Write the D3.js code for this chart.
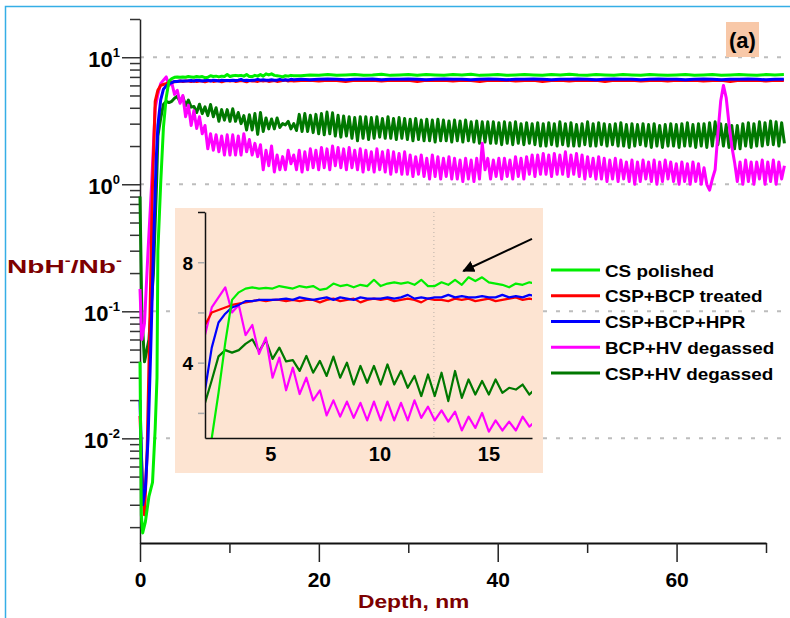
<!DOCTYPE html>
<html>
<head>
<meta charset="utf-8">
<script src="https://cdn.jsdelivr.net/npm/d3@7"></script>
<style>
  body { margin: 0; background: #fff; }
  text { font-family: Arial, "Liberation Sans", sans-serif; font-weight: bold; }
</style>
</head>
<body>
<svg id="chart" width="790" height="618"></svg>
<script>
const
  SERIES_NAMES = ['CS polished', 'CSP+BCP treated', 'CSP+BCP+HPR', 'BCP+HV degassed', 'CSP+HV degassed'],
  SERIES_COLORS = ['#00ee00', '#ff0000', '#0000ff', '#ff00ff', '#007800'],
  X_TICKS = [0, 10, 20, 30, 40, 50, 60, 70],
  X_LABELS = [0, 20, 40, 60],
  INSET_X_LABELS = [5, 10, 15],
  INSET_Y_TICKS = [2, 4, 6, 8, 10],
  INSET_Y_LABELS = [4, 8];

// depth grid of the inset arrays (and of the noisy tails that follow them)
const GRID_START = 2, GRID_STEP = 0.31;
// flat tails are read every 1 nm from 18 nm
const FLAT_START = 18, FLAT_STEP = 1;

// surface region, [depth, ratio]
const riseCS = [[0, 0.04], [0.15, 0.0025], [0.3, 0.0018], [0.6, 0.0022], [1.0, 0.0035], [1.4, 0.0045], [1.7, 0.012], [1.9, 0.03]];
const riseRed = [[0, 0.015], [0.25, 0.005], [0.5, 0.0025], [0.8, 0.008], [1.1, 0.08], [1.4, 1.0], [1.7, 4.5]];
const riseBlue = [[0, 0.02], [0.3, 0.003], [0.6, 0.004], [0.9, 0.01], [1.2, 0.05], [1.5, 0.3], [1.8, 1.5]];
const riseMagenta = [[0, 0.15], [0.2, 0.06], [0.5, 0.08], [0.9, 0.3], [1.3, 1.0], [1.7, 4.0]];
const riseDkGreen = [[0, 0.8], [0.2, 0.1], [0.5, 0.04], [1.0, 0.06], [1.5, 0.2], [1.85, 1.0]];

// 2 .. 17 nm (inset range)
const insetCS = [0.3, 1.0, 2.8, 4.8, 6.5, 6.8, 6.95, 7.0, 6.95, 6.98,
  6.95, 7.05, 7.0, 6.95, 7.05, 7.0, 7.05, 6.9, 6.95, 7.15,
  7.05, 7.1, 7.0, 7.1, 7.05, 7.3, 7.05, 7.15, 7.2, 7.15,
  7.2, 7.1, 7.3, 7.05, 7.05, 7.2, 7.1, 7.3, 7.1, 7.4,
  7.25, 7.4, 7.2, 7.15, 7.1, 7.0, 7.15, 7.1, 7.2, 7.15];
const insetRed = [5.5, 6.0, 6.1, 6.2, 6.3, 6.35, 6.4, 6.45, 6.5, 6.45,
  6.5, 6.5, 6.45, 6.5, 6.45, 6.5, 6.5, 6.4, 6.5, 6.55,
  6.45, 6.5, 6.55, 6.4, 6.5, 6.55, 6.5, 6.55, 6.45, 6.5,
  6.55, 6.5, 6.4, 6.55, 6.5, 6.5, 6.45, 6.55, 6.5, 6.55,
  6.45, 6.5, 6.55, 6.45, 6.5, 6.55, 6.6, 6.5, 6.55, 6.5];
const insetBlue = [2.9, 4.6, 5.6, 5.95, 6.2, 6.3, 6.45, 6.45, 6.5, 6.5,
  6.5, 6.52, 6.55, 6.5, 6.6, 6.55, 6.5, 6.55, 6.6, 6.5,
  6.6, 6.55, 6.5, 6.6, 6.55, 6.55, 6.55, 6.6, 6.55, 6.6,
  6.7, 6.55, 6.6, 6.55, 6.6, 6.6, 6.7, 6.6, 6.65, 6.6,
  6.6, 6.65, 6.6, 6.6, 6.7, 6.6, 6.65, 6.6, 6.7, 6.65];
const insetMagenta = [5.1, 6.2, 6.6, 7.0, 6.0, 6.3, 5.1, 5.5, 4.35, 5.0,
  3.4, 4.2, 2.9, 3.8, 2.75, 3.4, 2.5, 2.9, 1.9, 2.5,
  1.85, 2.45, 1.8, 2.4, 1.7, 2.45, 1.7, 2.45, 1.7, 2.4,
  1.7, 2.5, 1.8, 2.25, 1.7, 2.1, 1.65, 2.05, 1.3, 1.85,
  1.4, 2.0, 1.25, 1.7, 1.3, 1.65, 1.3, 1.85, 1.45, 1.7];
const insetDkGreen = [2.4, 3.3, 4.25, 4.5, 4.4, 4.5, 4.75, 4.93, 4.45, 4.9,
  4.15, 4.6, 4.05, 4.1, 3.67, 4.27, 3.6, 4.07, 3.47, 4.24,
  3.4, 4.0, 3.13, 3.87, 3.2, 3.87, 3.13, 3.93, 3.13, 3.67,
  3.0, 3.47, 2.67, 3.53, 2.67, 3.6, 2.47, 3.67, 2.6, 3.33,
  2.73, 3.27, 2.73, 3.33, 2.8, 3.0, 2.93, 3.13, 2.73, 3.0];

// 17.5 .. 72 nm, same 0.31 nm grid
const tailMagenta = [1.3, 1.85, 1.25, 1.8, 1.3, 1.9, 1.35, 1.85,
  1.3, 1.95, 1.35, 1.9, 1.3, 2.0, 1.4, 1.95, 1.35, 1.9, 1.3, 1.95, 1.35, 1.85, 1.3, 1.9, 1.25,
  1.85, 1.3, 1.8, 1.25, 1.9, 1.3, 1.8, 1.25, 1.85, 1.2, 1.8, 1.25, 1.75, 1.2, 1.8, 1.2,
  1.7, 1.15, 1.65, 1.2, 1.7, 1.15, 1.6, 1.1, 1.7, 1.15, 1.65, 1.1, 1.6, 1.15, 1.65, 1.1, 1.6, 1.1, 1.55,
  1.05, 1.6, 1.1, 1.55, 1.05, 1.6, 1.1,
  2.1, 1.3,
  1.6, 1.1, 1.55, 1.15, 1.6, 1.1, 1.6, 1.15, 1.55, 1.1, 1.65, 1.15, 1.6, 1.1, 1.65, 1.2, 1.7, 1.15, 1.7, 1.2,
  1.75, 1.2, 1.7, 1.15, 1.75, 1.2, 1.7, 1.2, 1.8, 1.15, 1.7, 1.2, 1.75, 1.15, 1.7, 1.1, 1.65, 1.15, 1.6, 1.1, 1.65, 1.1, 1.6,
  1.05, 1.55, 1.1, 1.6, 1.05, 1.55, 1.1, 1.5, 1.05, 1.55, 1.0, 1.5, 1.05, 1.55, 1.1, 1.5, 1.05, 1.55,
  1.0, 1.5, 1.05, 1.55, 1.1, 1.5, 1.05, 1.45, 1.0, 1.5, 1.05, 1.45, 1.0, 1.5, 1.05, 1.45, 1.0,
  1.35, 1.0, 0.9, 1.1, 1.3, 2.5, 4.5, 6.0, 4.8, 3.0, 2.0, 1.5,
  1.05, 1.5, 1.0, 1.55, 1.05, 1.5, 1.0, 1.5, 1.1, 1.55, 1.0, 1.5, 1.05, 1.55, 1.0, 1.5, 1.1, 1.4];
const tailDkGreen = [2.65, 3.55, 2.6, 3.6, 2.6, 3.5, 2.55, 3.55,
  2.5, 3.6, 2.45, 3.7, 2.5, 3.65, 2.4, 3.5, 2.35, 3.45, 2.4, 3.4, 2.3, 3.35, 2.2, 3.4, 2.3,
  3.4, 2.25, 3.35, 2.3, 3.4, 2.35, 3.3, 2.3, 3.4, 2.3, 3.3, 2.25, 3.35, 2.3, 3.3, 2.25,
  3.25, 2.2, 3.3, 2.25, 3.2, 2.2, 3.25, 2.2, 3.2, 2.15, 3.25, 2.2, 3.2, 2.2, 3.15, 2.15, 3.2, 2.2, 3.15,
  2.15, 3.2, 2.2, 3.1, 2.15, 3.15, 2.1,
  3.1, 2.15,
  3.1, 2.1, 3.1, 2.1, 3.05, 2.05, 3.1, 2.1, 3.05, 2.05, 3.1, 2.1, 3.0, 2.05, 3.05, 2.1, 3.0, 2.05, 3.05, 2.0,
  3.0, 2.0, 3.05, 2.05, 3.0, 2.0, 3.1, 2.05, 3.0, 2.0, 3.05, 2.0, 2.95, 2.0, 3.0, 2.05, 3.1, 2.0, 3.0, 2.0, 3.05, 2.05, 3.0,
  2.0, 2.95, 2.05, 3.0, 2.0, 3.05, 2.0, 2.95, 1.95, 3.0, 2.0, 2.95, 2.05, 3.0, 2.0, 2.95, 1.95, 3.0,
  2.0, 2.9, 1.95, 2.95, 2.0, 3.0, 2.0, 2.95, 1.95, 3.0, 2.0, 3.05, 2.0, 2.95, 1.95, 3.0, 2.0,
  3.0, 1.95, 3.05, 2.0, 3.1, 2.05, 3.0, 2.0, 2.95, 1.95, 2.9, 1.9,
  2.9, 1.9, 3.0, 2.0, 3.05, 1.95, 3.0, 2.0, 3.1, 2.0, 3.05, 2.05, 3.15, 2.05, 3.1, 2.0, 3.05, 2.1];

// 18 .. 72 nm, every 1 nm
const tailCS = [7.15, 7.25, 7.2, 7.3, 7.2, 7.25, 7.3, 7.2, 7.25, 7.35, 7.2,
  7.25, 7.3, 7.2, 7.3, 7.25, 7.2, 7.3, 7.25, 7.35, 7.2, 7.25,
  7.3, 7.2, 7.25, 7.3, 7.25, 7.2, 7.3, 7.25, 7.35, 7.25, 7.2,
  7.3, 7.25, 7.2, 7.3, 7.25, 7.2, 7.3, 7.25, 7.2, 7.25, 7.3,
  7.2, 7.25, 7.3, 7.2, 7.25, 7.3, 7.25, 7.2, 7.3, 7.25, 7.3];
const tailRed = [6.55, 6.6, 6.5, 6.6, 6.55, 6.45, 6.6, 6.55, 6.6, 6.5, 6.6,
  6.55, 6.6, 6.45, 6.6, 6.55, 6.6, 6.5, 6.6, 6.55, 6.45, 6.6,
  6.55, 6.6, 6.5, 6.55, 6.6, 6.45, 6.55, 6.6, 6.5, 6.6, 6.55,
  6.6, 6.45, 6.6, 6.55, 6.6, 6.5, 6.55, 6.6, 6.5, 6.6, 6.55,
  6.6, 6.5, 6.55, 6.6, 6.45, 6.6, 6.55, 6.6, 6.5, 6.6, 6.55];
const tailBlue = [6.7, 6.65, 6.7, 6.75, 6.7, 6.65, 6.7, 6.7, 6.75, 6.65, 6.7,
  6.7, 6.75, 6.7, 6.65, 6.7, 6.75, 6.7, 6.7, 6.65, 6.7, 6.75,
  6.7, 6.65, 6.7, 6.7, 6.75, 6.7, 6.65, 6.7, 6.7, 6.75, 6.7,
  6.65, 6.7, 6.75, 6.7, 6.7, 6.65, 6.7, 6.75, 6.7, 6.7, 6.65,
  6.7, 6.75, 6.7, 6.65, 6.7, 6.7, 6.75, 6.7, 6.65, 6.7, 6.7];

// annotation arrow in inset units, [depth, ratio]
const ARROW_FROM = [17.0, 8.93], ARROW_TO = [13.85, 7.65];

function onGrid (values, start, step) {
  return values.map((v, i) => [start + i * step, v]);
}

const tailStart = GRID_START + insetCS.length * GRID_STEP;

const insetSeries = [insetCS, insetRed, insetBlue, insetMagenta, insetDkGreen]
  .map((vals) => onGrid(vals, GRID_START, GRID_STEP));

const mainSeries = [
  riseCS.concat(insetSeries[0], onGrid(tailCS, FLAT_START, FLAT_STEP)),
  riseRed.concat(insetSeries[1], onGrid(tailRed, FLAT_START, FLAT_STEP)),
  riseBlue.concat(insetSeries[2], onGrid(tailBlue, FLAT_START, FLAT_STEP)),
  riseMagenta.concat(insetSeries[3], onGrid(tailMagenta, tailStart, GRID_STEP)),
  riseDkGreen.concat(insetSeries[4], onGrid(tailDkGreen, tailStart, GRID_STEP))
];

// draw order: dark green underneath, green on top
const DRAW_ORDER = [4, 3, 1, 2, 0];

const svg = d3.select('#chart');

function stretchText (sel, k) {
  sel.each(function () {
    let t = d3.select(this),
      x0 = +t.attr('x') || 0,
      y0 = +t.attr('y') || 0;
    t.attr('x', 0).attr('y', 0).attr('transform', `translate(${x0},${y0}) scale(${k},1)`);
  });
}

svg.append('rect')
  .attr('x', 5.5).attr('y', 6.5).attr('width', 800).attr('height', 700)
  .attr('fill', '#fff').attr('stroke', '#35aee6').attr('stroke-width', 1.5);

// main scales
const x = d3.scaleLinear().domain([0, 70]).range([140, 766]);
const y = d3.scaleLog().domain([0.0015, 20]).range([543, 19]);
const isDecade = (v) => Math.abs(Math.log10(v) - Math.round(Math.log10(v))) < 1e-6;
const decades = y.ticks().filter(isDecade);

// dashed grid at the decades
svg.append('g')
  .selectAll('line')
  .data(decades)
  .enter()
  .append('line')
  .attr('x1', 140).attr('x2', 790)
  .attr('y1', (d) => y(d)).attr('y2', (d) => y(d))
  .attr('stroke', '#bdbdbd').attr('stroke-width', 2)
  .attr('stroke-dasharray', '4,9');

// y axis
const yAxis = svg.append('g')
  .attr('transform', 'translate(140,0)')
  .call(d3.axisLeft(y).tickValues(y.ticks()).tickSize(10).tickSizeOuter(0).tickFormat(''));

yAxis.select('.domain').attr('stroke', '#222').attr('stroke-width', 1.5);
yAxis.selectAll('.tick line')
  .attr('x2', (d) => isDecade(d) ? -18 : -10)
  .attr('stroke', '#333').attr('stroke-width', 1.5);

let yLab = yAxis.selectAll('.tick')
  .filter(isDecade)
  .append('text')
  .attr('x', -20).attr('y', 9)
  .attr('text-anchor', 'end')
  .attr('fill', '#000')
  .style('font-size', '22px');
yLab.append('tspan').text('10');
yLab.append('tspan')
  .attr('dy', -10)
  .style('font-size', '13px')
  .text((d) => Math.round(Math.log10(d)));

// x axis
const xAxis = svg.append('g')
  .attr('transform', 'translate(0,543)')
  .call(d3.axisBottom(x).tickValues(X_TICKS).tickSize(9).tickSizeOuter(0).tickFormat(''));

xAxis.select('.domain').attr('stroke', '#111').attr('stroke-width', 2);
xAxis.selectAll('.tick line')
  .attr('y2', (d) => X_LABELS.includes(d) ? 19 : 10)
  .attr('stroke', '#222').attr('stroke-width', 1.5);
xAxis.selectAll('.tick')
  .filter((d) => X_LABELS.includes(d))
  .append('text')
  .attr('y', 44)
  .attr('text-anchor', 'middle')
  .attr('fill', '#000')
  .style('font-size', '21px')
  .text((d) => d);

// axis titles
let yTitle = svg.append('text')
  .attr('x', 7).attr('y', 273)
  .attr('fill', '#7d0000')
  .style('font-size', '19px');
yTitle.append('tspan').text('NbH');
yTitle.append('tspan').attr('dy', -8).style('font-size', '12px').text('-');
yTitle.append('tspan').attr('dy', 8).text('/Nb');
yTitle.append('tspan').attr('dy', -8).style('font-size', '12px').text('-');
stretchText(yTitle, 1.48);

svg.append('text')
  .attr('x', 358).attr('y', 608)
  .attr('fill', '#7d0000')
  .style('font-size', '19px')
  .text('Depth, nm')
  .call(stretchText, 1.2);

// main curves
const line = d3.line().x((d) => x(d[0])).y((d) => y(d[1]));

svg.append('g')
  .selectAll('path')
  .data(DRAW_ORDER)
  .enter()
  .append('path')
  .attr('d', (i) => line(mainSeries[i]))
  .attr('fill', 'none')
  .attr('stroke', (i) => SERIES_COLORS[i])
  .attr('stroke-width', 3)
  .attr('stroke-linejoin', 'round');

// (a) label
svg.append('rect')
  .attr('x', 726).attr('y', 22).attr('width', 33).attr('height', 35)
  .attr('fill', '#f8c8a8');
svg.append('text')
  .attr('x', 742.5).attr('y', 48)
  .attr('text-anchor', 'middle')
  .attr('fill', '#000')
  .style('font-size', '22px')
  .text('(a)');

// inset
const ix = d3.scaleLinear().domain([2, 17]).range([205, 532]);
const iy = d3.scaleLinear().domain([1, 10]).range([438, 212]);

const inset = svg.append('g');

inset.append('rect')
  .attr('x', 175).attr('y', 208).attr('width', 368).attr('height', 265)
  .attr('fill', '#fde4d2');

inset.append('line')
  .attr('x1', ix(12.5)).attr('x2', ix(12.5))
  .attr('y1', iy(10)).attr('y2', iy(1))
  .attr('stroke', '#b8b0a8').attr('stroke-width', 1)
  .attr('stroke-dasharray', '1,3');

inset.append('clipPath')
  .attr('id', 'inset-clip')
  .append('rect')
  .attr('x', 205).attr('y', 212).attr('width', 327).attr('height', 226);

const iline = d3.line().x((d) => ix(d[0])).y((d) => iy(d[1]));

inset.append('g')
  .attr('clip-path', 'url(#inset-clip)')
  .selectAll('path')
  .data(DRAW_ORDER)
  .enter()
  .append('path')
  .attr('d', (i) => iline(insetSeries[i]))
  .attr('fill', 'none')
  .attr('stroke', (i) => SERIES_COLORS[i])
  .attr('stroke-width', 2.2)
  .attr('stroke-linejoin', 'round');

const iyAxis = inset.append('g')
  .attr('transform', 'translate(205,0)')
  .call(d3.axisLeft(iy).tickValues(INSET_Y_TICKS).tickSize(7).tickSizeOuter(0).tickFormat(''));
iyAxis.select('.domain').attr('stroke', '#111').attr('stroke-width', 1.5);
iyAxis.selectAll('.tick line')
  .attr('stroke', (d) => d === 10 ? '#111' : '#aaa')
  .attr('stroke-width', 1.5);
iyAxis.selectAll('.tick')
  .filter((d) => INSET_Y_LABELS.includes(d))
  .append('text')
  .attr('x', -12).attr('y', 7)
  .attr('text-anchor', 'end')
  .attr('fill', '#000')
  .style('font-size', '19px')
  .text((d) => d);

const ixAxis = inset.append('g')
  .attr('transform', 'translate(0,438)')
  .call(d3.axisBottom(ix).tickValues(INSET_X_LABELS).tickSize(0).tickSizeOuter(0).tickFormat(''));
ixAxis.select('.domain').attr('stroke', '#111').attr('stroke-width', 1.5);
ixAxis.selectAll('.tick')
  .append('text')
  .attr('y', 23)
  .attr('text-anchor', 'middle')
  .attr('fill', '#000')
  .style('font-size', '20px')
  .text((d) => d);

// arrow pointing at the CS polished bumps
svg.append('defs')
  .append('marker')
  .attr('id', 'head')
  .attr('viewBox', '0 0 10 10')
  .attr('refX', 9).attr('refY', 5)
  .attr('markerWidth', 6).attr('markerHeight', 6)
  .attr('orient', 'auto')
  .append('path')
  .attr('d', 'M0,0L10,5L0,10z')
  .attr('fill', '#000');

inset.append('line')
  .attr('x1', ix(ARROW_FROM[0])).attr('y1', iy(ARROW_FROM[1]))
  .attr('x2', ix(ARROW_TO[0])).attr('y2', iy(ARROW_TO[1]))
  .attr('stroke', '#000').attr('stroke-width', 2)
  .attr('marker-end', 'url(#head)');

// legend
const legend = svg.append('g')
  .selectAll('g')
  .data(SERIES_NAMES)
  .enter()
  .append('g')
  .attr('transform', (d, i) => `translate(551,${270 + i * 25.75})`);

legend.append('line')
  .attr('x1', 0).attr('x2', 49)
  .attr('stroke', (d, i) => SERIES_COLORS[i])
  .attr('stroke-width', 3);

legend.append('text')
  .attr('x', 54).attr('y', 6.5)
  .attr('fill', '#000')
  .style('font-size', '16px')
  .text((d) => d)
  .call(stretchText, 1.18);
</script>
</body>
</html>
